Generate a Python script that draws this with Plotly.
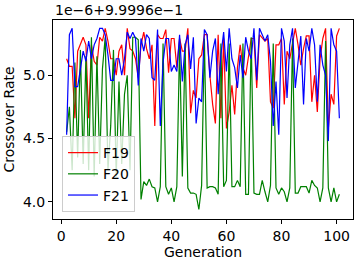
import plotly.graph_objects as go

generations = list(range(2, 102))

# values shown as offset: actual = 0.99996 + v * 1e-6
f19 = [5.13, 5.07, 5.07, 4.66, 5.19, 5.24, 5.30, 5.24, 4.66, 5.24,
       5.11, 5.08, 5.30, 5.27, 5.37, 5.27, 5.13, 5.13, 5.00, 5.19,
       5.24, 5.00, 5.37, 5.21, 5.19, 5.13, 4.98, 5.24, 5.34, 5.21,
       5.13, 5.24, 4.60, 5.32, 5.29, 5.29, 5.36, 5.02, 5.29, 5.29,
       5.06, 5.29, 5.19, 5.19, 5.37, 4.70, 4.88, 4.82, 5.13, 5.16,
       5.32, 5.32, 5.00, 4.77, 4.62, 5.32, 4.66, 5.29, 4.58, 4.71,
       4.92, 4.69, 5.06, 5.24, 5.06, 5.00, 5.13, 5.29, 5.29, 4.90,
       5.32, 5.29, 5.27, 5.29, 4.79, 4.74, 5.24, 5.24, 5.29, 4.77,
       5.19, 5.13, 5.24, 5.37, 5.24, 5.08, 5.21, 5.31, 5.31, 4.79,
       5.00, 4.71, 5.13, 5.29, 5.37, 4.58, 4.85, 4.77, 5.31, 5.37]

f20 = [4.55, 4.75, 4.25, 5.10, 4.35, 5.20, 4.30, 5.15, 4.25, 5.30,
       4.20, 5.15, 4.30, 5.05, 5.30, 4.25, 4.60, 5.20, 4.20, 4.95,
       4.30, 4.85, 5.00, 4.25, 5.30, 5.30, 5.28, 4.02, 4.16, 4.13,
       4.18, 4.12, 4.11, 4.00, 4.12, 5.25, 4.12, 4.06, 4.11, 4.00,
       4.12, 5.25, 4.20, 5.25, 4.11, 4.07, 4.07, 4.06, 3.94, 4.13,
       5.29, 4.11, 4.12, 4.12, 4.11, 4.06, 5.25, 4.12, 4.17, 5.25,
       4.12, 4.12, 4.17, 4.12, 5.25, 4.06, 4.06, 5.30, 4.07, 4.06,
       4.06, 4.17, 4.08, 4.00, 4.13, 5.25, 4.11, 4.06, 4.11, 4.08,
       4.00, 4.11, 5.29, 4.07, 4.07, 4.12, 4.12, 4.12, 4.07, 4.17,
       4.13, 4.11, 4.00, 4.11, 5.27, 4.11, 4.00, 4.11, 4.00, 4.06]

f21 = [4.53, 5.32, 5.37, 4.91, 4.91, 5.06, 5.19, 5.11, 5.27, 5.13,
       5.24, 5.29, 5.37, 5.37, 5.32, 5.16, 4.96, 4.96, 5.13, 5.13,
       5.00, 5.13, 5.34, 5.29, 5.34, 5.29, 4.92, 5.29, 5.19, 5.32,
       5.29, 4.98, 4.96, 5.36, 4.60, 5.10, 5.29, 5.29, 5.03, 5.08,
       5.03, 5.32, 4.95, 5.24, 5.32, 5.05, 5.30, 4.62, 4.82, 4.79,
       5.36, 5.32, 4.98, 5.19, 5.29, 4.85, 5.16, 5.34, 5.03, 5.37,
       5.13, 5.06, 4.90, 5.16, 4.98, 5.30, 5.19, 5.13, 5.37, 4.96,
       5.37, 5.32, 5.27, 5.32, 5.11, 4.60, 4.95, 4.53, 5.37, 5.27,
       4.82, 5.24, 5.37, 4.90, 5.11, 5.31, 4.77, 5.29, 5.19, 5.37,
       5.24, 4.79, 5.24, 5.08, 5.00, 4.48, 5.37, 5.24, 5.19, 4.66]

series = [("F19", f19, "red"), ("F20", f20, "green"), ("F21", f21, "blue")]

y_ticks = [4.0, 4.5, 5.0]
x_ticks = [0, 20, 40, 60, 80, 100]

font = dict(family="DejaVu Sans", size=14, color="black")

fig = go.Figure()
for name, vals, color in series:
    fig.add_trace(go.Scatter(x=generations, y=vals, mode="lines", name=name,
                             line=dict(color=color, width=1.2)))

fig.update_layout(
    width=360, height=263,
    margin=dict(l=53, r=7, t=20, b=44),
    paper_bgcolor="white", plot_bgcolor="white",
    font=font,
    showlegend=True,
    legend=dict(x=0.03, y=0.035, xanchor="left", yanchor="bottom",
                bgcolor="rgba(255,255,255,0.8)", bordercolor="#cccccc",
                borderwidth=1, font=font, tracegroupgap=0),
    annotations=[dict(text="1e\u22126+9.9996e\u22121", xref="paper", yref="paper",
                      x=0, y=1, xanchor="left", yanchor="bottom", yshift=0,
                      showarrow=False, font=font)],
)
fig.update_xaxes(range=[-2.95, 105.95], tickvals=x_ticks, ticks="outside",
                 ticklen=4, tickwidth=1, tickcolor="black", showline=True,
                 linecolor="black", linewidth=1, mirror=True, showgrid=False,
                 zeroline=False, title=dict(text="Generation", font=font, standoff=2))
fig.update_yaxes(range=[3.865, 5.436], tickvals=y_ticks, tickformat=".1f",
                 ticks="outside", ticklen=4, tickwidth=1, tickcolor="black",
                 showline=True, linecolor="black", linewidth=1, mirror=True,
                 showgrid=False, zeroline=False,
                 title=dict(text="Crossover Rate", font=font, standoff=5))

fig.write_html("out.html", config={"displayModeBar": False},
               post_script="document.body.style.margin='0px';document.body.style.padding='0px';")
